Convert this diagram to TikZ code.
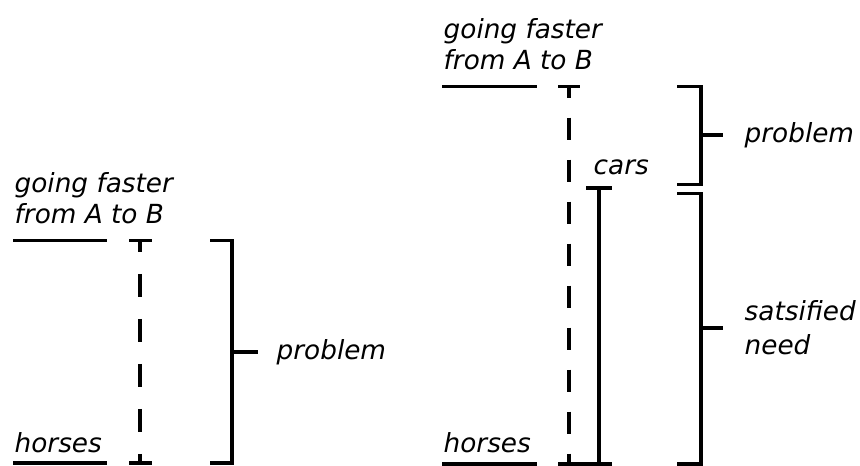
\documentclass[tikz,border=0pt]{standalone}
\usepackage{fontspec}
\setmainfont{DejaVu Sans}
\begin{document}
\begin{tikzpicture}[x=1pt,y=-1pt,line width=3.4pt,
  lbl/.style={font=\itshape\fontsize{26.3}{31}\selectfont,inner sep=0pt,align=left},
  dashL/.style={dash pattern=on 23.5pt off 21.5pt,dash phase=11.75pt},
  dashR/.style={dash pattern=on 22pt off 20pt,dash phase=11pt}]
\useasboundingbox (0,0) rectangle (860,466);

% ---------- left: before cars ----------
% (base anchor of a two-line label sits on its last line)
\node[lbl,anchor=base west] (goalL) at (13,223) {going faster\\from A to B};
\node[lbl,anchor=base west] (horsesL) at (13,452) {horses};
\coordinate (gl1) at (13,240.5);  \coordinate (gl2) at (107,240.5);
\coordinate (hl1) at (13,463);    \coordinate (hl2) at (107,463);
\draw (gl1) -- (gl2);
\draw (hl1) -- (hl2);
% dashed gap between goal and horses
\coordinate (dLt) at (140,240.5); \coordinate (dLb) at (140,463);
\draw (129,240.5) -- (152,240.5);
\draw (129,463) -- (152,463);
\draw[dashL] (dLt) -- (dLb);
% bracket
\coordinate (bLt) at (232,240.5); \coordinate (bLb) at (232,463); \coordinate (bLm) at (232,352);
\draw (210,240.5) -- (bLt) -- (bLb) -- (210,463);
\node[lbl,anchor=base west] (probL) at (275,359.5) {problem};
\draw (bLm) -- (258,352);

% ---------- right: with cars ----------
\node[lbl,anchor=base west] (goalR) at (442,69) {going faster\\from A to B};
\node[lbl,anchor=base west] (horsesR) at (442,452) {horses};
\node[lbl,anchor=base west] (cars) at (592,174) {cars};
\coordinate (gr1) at (442,86.5);  \coordinate (gr2) at (537,86.5);
\coordinate (hr1) at (442,464);   \coordinate (hr2) at (537,464);
\draw (gr1) -- (gr2);
\draw (hr1) -- (hr2);
% remaining gap (dashed) and achieved level (solid)
\coordinate (dRt) at (569,86.5); \coordinate (dRb) at (569,464);
\coordinate (cRt) at (599,188);  \coordinate (cRb) at (599,464);
\draw (558,86.5) -- (580,86.5);
\draw[dashR] (dRt) -- (dRb);
\draw (586,188) -- (612,188);
\draw (cRt) -- (cRb);
\draw (558,464) -- (612,464);
% brackets
\coordinate (b1t) at (701,86.5); \coordinate (b1b) at (701,184.5); \coordinate (b1m) at (701,135);
\draw (677,86.5) -- (b1t) -- (b1b) -- (677,184.5);
\draw (b1m) -- (723,135);
\node[lbl,anchor=base west] (probR) at (743,142.5) {problem};
\coordinate (b2t) at (701,193.5); \coordinate (b2b) at (701,464); \coordinate (b2m) at (701,328);
\draw (677,193.5) -- (b2t) -- (b2b) -- (677,464);
\draw (b2m) -- (723,328);
\node[lbl,anchor=base west,font=\itshape\fontsize{26.3}{34}\selectfont] (need) at (743,354) {satsified\\need};
\end{tikzpicture}
\end{document}
